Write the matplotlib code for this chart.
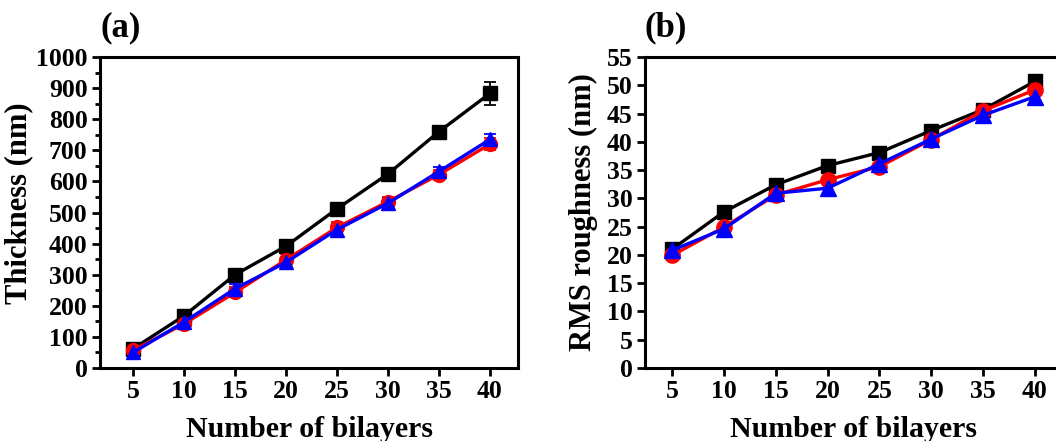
import matplotlib.pyplot as plt
import numpy as np
from matplotlib.ticker import MultipleLocator

plt.rcParams['font.family'] = 'Liberation Serif'
plt.rcParams['font.weight'] = 'bold'

bilayers = [5, 10, 15, 20, 25, 30, 35, 40]

# (a) thickness, nm
thick_black = [62, 168, 300, 392, 512, 624, 760, 883]
thick_black_err = [8, 10, 12, 12, 12, 12, 15, 38]
thick_red = [57, 142, 243, 348, 452, 535, 622, 720]
thick_red_err = [14, 14, 16, 18, 16, 16, 16, 20]
thick_blue = [50, 148, 255, 340, 445, 530, 632, 735]
thick_blue_err = [18, 16, 14, 16, 18, 16, 14, 18]

# (b) RMS roughness, nm
rms_black = [21.0, 27.6, 32.4, 35.8, 38.1, 42.0, 45.7, 50.7]
rms_red = [19.9, 24.9, 30.6, 33.3, 35.6, 40.4, 45.5, 49.2]
rms_blue = [20.8, 24.6, 30.9, 31.8, 36.1, 40.5, 44.7, 48.0]

fig = plt.figure(figsize=(10.56, 4.41), dpi=100)
ax1 = fig.add_axes([100/1056, 73/441, 418/1056, 311/441])
ax2 = fig.add_axes([645/1056, 73/441, 418/1056, 311/441])

# panel (a)
ax1.errorbar(bilayers, thick_black, yerr=thick_black_err, color='black', marker='s',
             ms=10, lw=2.4, capsize=4, elinewidth=1.3, capthick=1.3)
ax1.errorbar(bilayers, thick_red, yerr=thick_red_err, color='red', marker='o',
             ms=10, lw=2.4, capsize=4, elinewidth=1.3, capthick=1.3)
ax1.errorbar(bilayers, thick_blue, yerr=thick_blue_err, color='blue', marker='^',
             ms=10, lw=2.4, capsize=4, elinewidth=1.3, capthick=1.3)
ax1.set_xlim(1.75, 42.75)
ax1.set_ylim(0, 1000)
ax1.yaxis.set_major_locator(MultipleLocator(100))
ax1.yaxis.set_minor_locator(MultipleLocator(50))
ax1.set_ylabel('Thickness (nm)', fontsize=22, fontweight='bold')
ax1.yaxis.set_label_coords(-0.16, 0.53)

# panel (b)
ax2.plot(bilayers, rms_black, color='black', marker='s', ms=10, lw=2.4)
ax2.plot(bilayers, rms_red, color='red', marker='o', ms=11, lw=2.4)
ax2.plot(bilayers, rms_blue, color='blue', marker='^', ms=11, lw=2.4)
ax2.set_xlim(2.4, 42.7)
ax2.set_ylim(0, 55)
ax2.yaxis.set_major_locator(MultipleLocator(5))
ax2.set_ylabel('RMS roughness (nm)', fontsize=22, fontweight='bold', labelpad=6)

for ax, tag in [(ax1, '(a)'), (ax2, '(b)')]:
    ax.set_xticks(bilayers)
    ax.set_xlabel('Number of bilayers', fontsize=21.5, fontweight='bold', labelpad=9)
    ax.tick_params(axis='both', which='major', direction='out', length=6, width=2,
                   labelsize=18.5, pad=3)
    ax.tick_params(axis='both', which='minor', direction='out', length=3.5, width=2)
    for s in ax.spines.values():
        s.set_linewidth(2.2)
    for lab in ax.get_xticklabels() + ax.get_yticklabels():
        lab.set_fontweight('bold')
    ax.text(0.0, 1.04, tag, transform=ax.transAxes, fontsize=25, fontweight='bold',
            ha='left', va='bottom')

plt.savefig('out.png', dpi=100)
